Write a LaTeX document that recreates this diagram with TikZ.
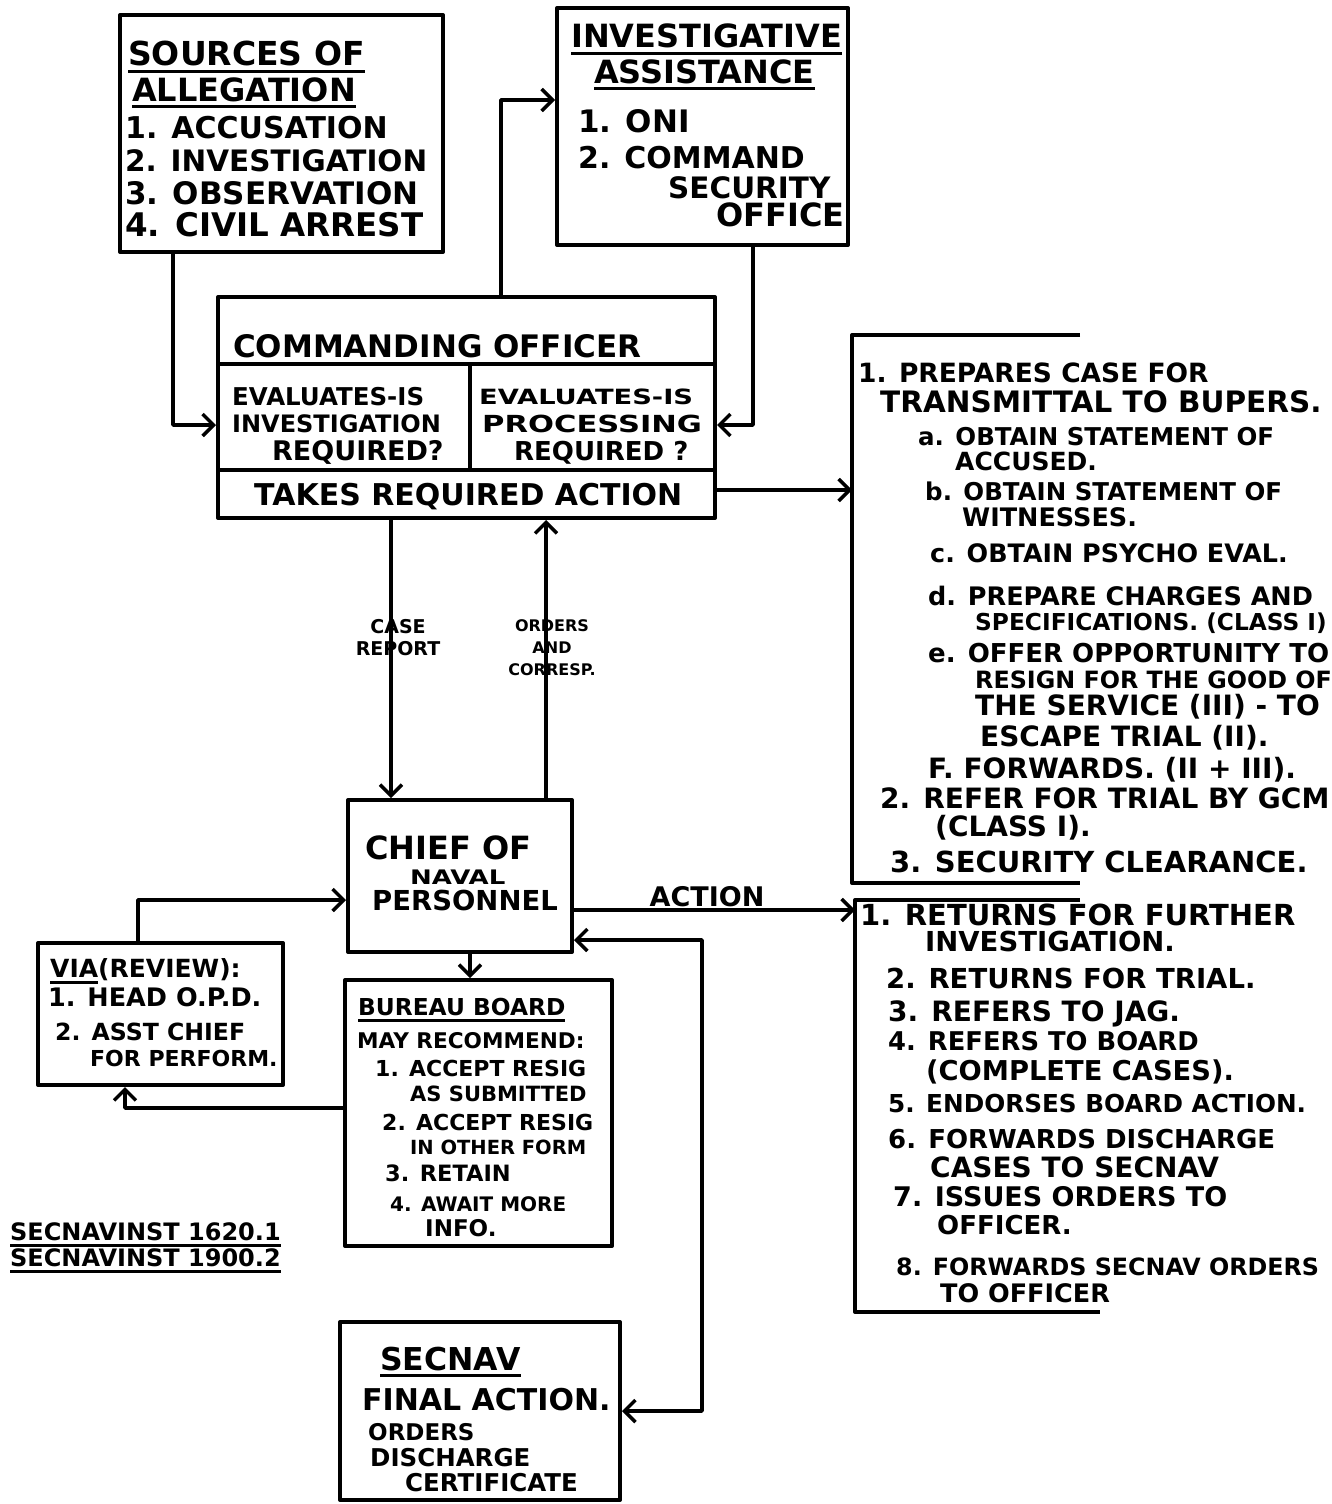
\documentclass[tikz,border=0pt]{standalone}
\usepackage{fontspec}
\setmainfont{DejaVu Sans}
\newfontfamily\wf{DejaVu Sans}[FakeStretch=1.3]
\usetikzlibrary{arrows.meta,calc}
\newcommand{\fsz}[1]{\fontsize{#1}{#1}\selectfont}
\newcommand{\hul}[1]{\setbox0=\hbox{#1}\rlap{\rule[-7pt]{\wd0}{3pt}}\box0}
\newcommand{\txtlines}[2]{\foreach \x/\y/\s/\t [count=\i] in {#2} {\node[lbl, font=\bfseries\fsz{\s}] (#1\i) at (\x,\y) {\t};}}
\begin{document}
\begin{tikzpicture}[x=1pt,y=-1pt,
  box/.style={draw, line width=4pt, inner sep=0pt, line join=round},
  wire/.style={line width=3.5pt, line join=round},
  conn/.style={wire, -{Straight Barb[length=11pt,width=22pt,line width=3.5pt]}},
  bi/.style={wire, {Straight Barb[length=11pt,width=22pt,line width=3.5pt]}-{Straight Barb[length=11pt,width=22pt,line width=3.5pt]}},
  lbl/.style={inner sep=0pt, anchor=base west},
  clbl/.style={inner sep=0pt, align=center},
]
\useasboundingbox (0,0) rectangle (1331,1504);
\clip (0,0) rectangle (1331,1504);
\fill[white] (0,0) rectangle (1331,1504);

% boxes
\node[box, minimum width=323pt, minimum height=237pt] (src) at (281.5,133.5) {};
\node[box, minimum width=291pt, minimum height=237pt] (inv) at (702.5,126.5) {};
\node[box, minimum width=497pt, minimum height=221pt] (co) at (466.5,407.5) {};
\node[box, minimum width=224pt, minimum height=152pt] (cnp) at (460,876) {};
\node[box, minimum width=267pt, minimum height=266pt] (bb) at (478.5,1113) {};
\node[box, minimum width=245pt, minimum height=142pt] (via) at (160.5,1014) {};
\node[box, minimum width=280pt, minimum height=178pt] (sec) at (480,1411) {};

% commanding officer dividers
\draw[wire, line width=4pt] ($(co.north west)+(0,69)$) -- ($(co.north east)+(0,69)$);
\draw[wire, line width=4pt] ($(co.north west)+(0,175)$) -- ($(co.north east)+(0,175)$);
\draw[wire, line width=4pt] ($(co.north west)+(254,69)$) -- ($(co.north west)+(254,175)$);

% open brackets on the right
\draw[wire, line width=4pt] (1080,335) -- (852,335) -- (852,883) -- (1080,883);
\draw[wire, line width=4pt] (1080,900) -- (855,900) -- (855,1312) -- (1100,1312);
\coordinate (rb1) at (852,490);
\coordinate (rb2) at (855,910);

% texts
\txtlines{tS}{128/66/33/{\hul{SOURCES OF}}, 132/101/32/{\hul{ALLEGATION}}, 125/138/30/{1. ACCUSATION}, 125/171/29.5/{2. INVESTIGATION}, 125/204/31/{3. OBSERVATION}, 125/236/32.5/{4. CIVIL ARREST}}
\txtlines{tI}{571/48/32/{\hul{INVESTIGATIVE}}, 594/83/32/{\hul{ASSISTANCE}}, 578/132/31/{1. ONI}, 578/168/30/{2. COMMAND}, 668/198/29.5/{SECURITY}, 716/226/32/{OFFICE}}
\txtlines{tC}{233/357/31/{COMMANDING OFFICER}, 232/405/24.5/{EVALUATES-IS}, 232/432/24/{INVESTIGATION}, 272/460/27/{REQUIRED?}, 479/404/21/{{\wf EVALUATES-IS}}, 482/432/23.5/{{\wf PROCESSING}}, 514/460/26/{REQUIRED ?}, 254/505/30/{TAKES REQUIRED ACTION}}
\txtlines{tP}{858/382/26.5/{1. PREPARES CASE FOR}, 880/412/29.5/{TRANSMITTAL TO BUPERS.}, 918/445/24.5/{a. OBTAIN STATEMENT OF}, 955/470/25/{ACCUSED.}, 925/500/24.5/{b. OBTAIN STATEMENT OF}, 962/526/25.5/{WITNESSES.}, 930/562/25.4/{c. OBTAIN PSYCHO EVAL.}, 928/605/25.5/{d. PREPARE CHARGES AND}, 975/630/23.3/{SPECIFICATIONS. (CLASS I)}, 928/662/26/{e. OFFER OPPORTUNITY TO}, 975/688/23.8/{RESIGN FOR THE GOOD OF}, 975/715/28/{THE SERVICE (III) - TO}, 980/746/28/{ESCAPE TRIAL (II).}, 928/778/28/{F. FORWARDS. (II + III).}, 880/808/28/{2. REFER FOR TRIAL BY GCM}, 935/836/28/{(CLASS I).}, 890/872/29/{3. SECURITY CLEARANCE.}}
\txtlines{tR}{860/925/29/{1. RETURNS FOR FURTHER}, 925/951/27.5/{INVESTIGATION.}, 886/988/27.5/{2. RETURNS FOR TRIAL.}, 888/1021/28/{3. REFERS TO JAG.}, 888/1050/25.8/{4. REFERS TO BOARD}, 926/1080/27.3/{(COMPLETE CASES).}, 888/1112/24.7/{5. ENDORSES BOARD ACTION.}, 888/1148/26/{6. FORWARDS DISCHARGE}, 930/1177/28/{CASES TO SECNAV}, 893/1206/27/{7. ISSUES ORDERS TO}, 937/1234/26/{OFFICER.}, 896/1275/23.8/{8. FORWARDS SECNAV ORDERS}, 940/1302/25.5/{TO OFFICER}}
\txtlines{tN}{365/859/32/{CHIEF OF}, 372/910/27.5/{PERSONNEL}}
\node[lbl, font=\wf\bfseries\fsz{20}] (tN3) at (410,884) {NAVAL};
\txtlines{tB}{358/1015/23.3/{\hul{BUREAU BOARD}}, 357/1048/21.6/{MAY RECOMMEND:}, 375/1076/22/{1. ACCEPT RESIG}, 410/1101/21/{AS SUBMITTED}, 382/1130/22/{2. ACCEPT RESIG}, 410/1154/19.5/{IN OTHER FORM}, 385/1181/22.5/{3. RETAIN}, 390/1211/20/{4. AWAIT MORE}, 425/1236/23/{INFO.}}
\txtlines{tV}{50/977/25/{\hul{VIA} (REVIEW):}, 48/1006/25.5/{1. HEAD O.P.D.}, 55/1040/23.6/{2. ASST CHIEF}, 90/1066/22/{FOR PERFORM.}}
\txtlines{tK}{10/1240/24/{\hul{SECNAVINST 1620.1}}, 10/1266/24/{\hul{SECNAVINST 1900.2}}}
\txtlines{tE}{380/1370/31.5/{\hul{SECNAV}}, 362/1410/30/{FINAL ACTION.}, 368/1440/23/{ORDERS}, 370/1466/24.5/{DISCHARGE}, 405/1491/24.5/{CERTIFICATE}}

% connectors
\draw[conn] ($(src.south west)+(55,0)$) |- ($(co.west)+(0,17.5)$);
\draw[conn] ($(co.north west)+(285,0)$) |- ($(inv.west)+(0,-26.5)$);
\draw[conn] ($(inv.south west)+(198,0)$) |- ($(co.east)+(0,17.5)$);
\draw[conn] ($(co.east)+(0,82.5)$) -- (rb1);
\draw[conn] ($(co.south west)+(175,0)$) coordinate (cr) -- (cr |- cnp.north);
\draw[conn] ($(cnp.north west)+(200,0)$) coordinate (oc) -- (oc |- co.south);
\draw[conn] ($(cnp.east)+(0,34)$) -- (rb2);
\draw[conn] ($(cnp.south)+(10,0)$) coordinate (cb) -- (cb |- bb.north);
\draw[conn] ($(via.north west)+(102,0)$) |- ($(cnp.west)+(0,24)$);
\draw[conn] ($(bb.west)+(0,-5)$) -| ($(via.south west)+(89,0)$);
\draw[bi] ($(cnp.east)+(0,64)$) -- ++(128,0) |- (sec.east);

% connector labels
\node[clbl, font=\bfseries\fontsize{19}{22}\selectfont] (lcase) at (398,638) {CASE\\REPORT};
\node[clbl, font=\bfseries\fontsize{16}{22}\selectfont] (lord) at (552,648) {ORDERS\\AND\\CORRESP.};
\node[lbl, anchor=base, font=\bfseries\fsz{27}] (lact) at (707,906) {ACTION};
\end{tikzpicture}
\end{document}
